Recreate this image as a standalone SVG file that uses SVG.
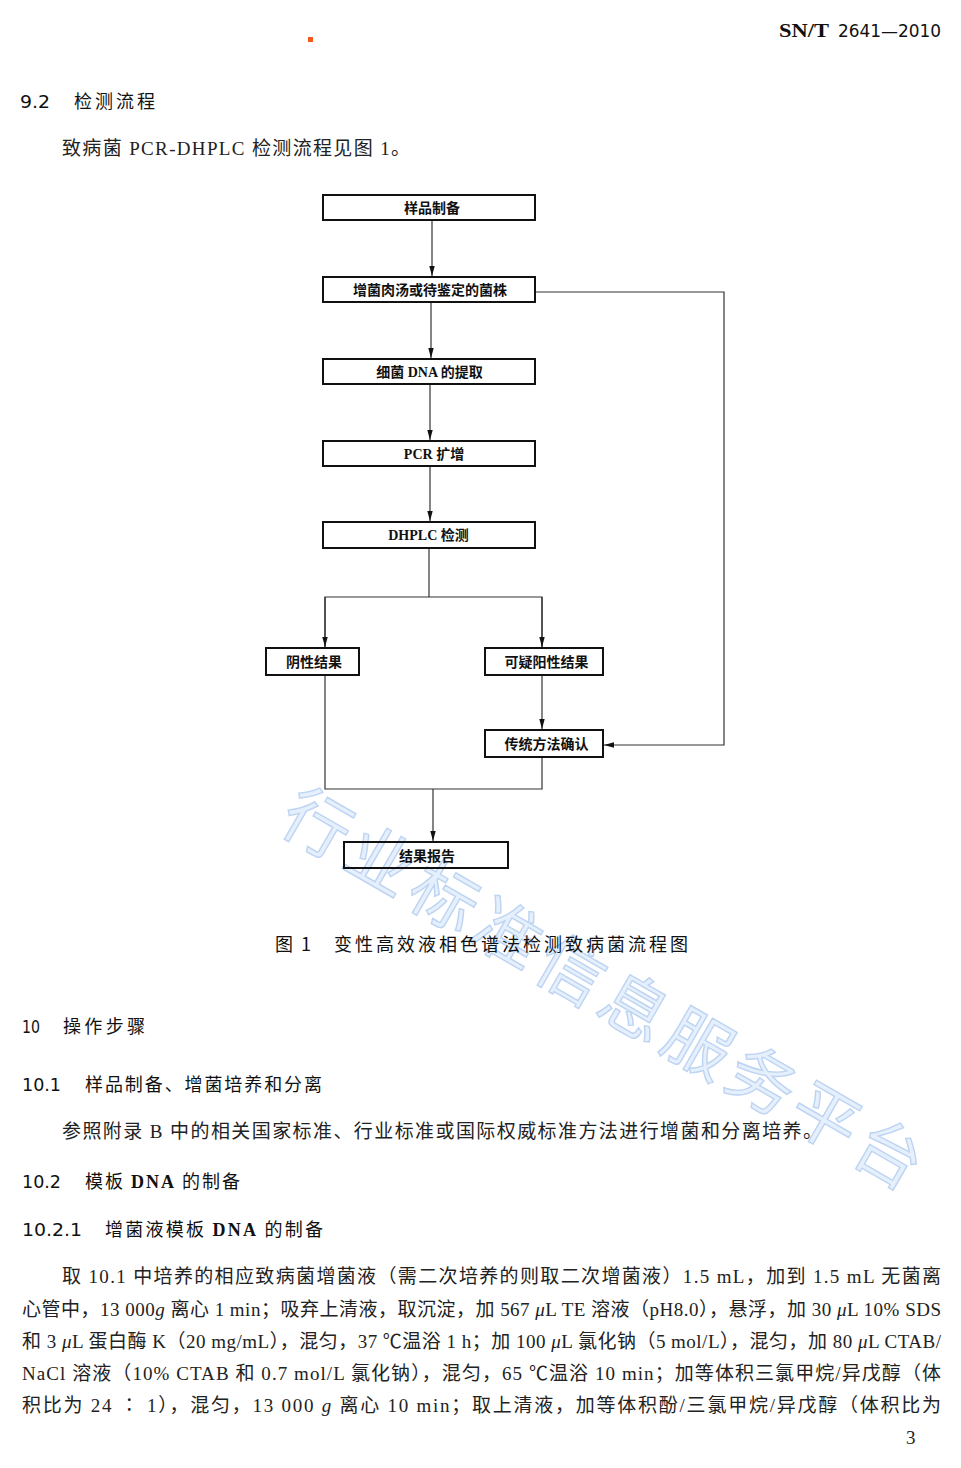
<svg xmlns="http://www.w3.org/2000/svg" width="961" height="1468" viewBox="0 0 961 1468">
<style>
.box{fill:none;stroke:#111;stroke-width:2}
.lbl{font-family:"Liberation Serif","Noto Sans CJK SC",serif;font-size:14px;font-weight:bold;fill:#111;text-anchor:middle}
.con{fill:none;stroke:#333;stroke-width:1.2}
.h{font-family:"DejaVu Sans Condensed","DejaVu Sans","Noto Sans CJK SC",sans-serif;font-size:18px;fill:#111}
.hz{font-family:"Noto Sans CJK SC",sans-serif;font-size:18px;fill:#111}
.body{font-family:"Liberation Serif","Noto Sans CJK SC",serif;font-size:19px;fill:#222}
.it{font-style:italic}
.wm{font-family:"Noto Sans CJK SC",sans-serif;font-size:67px;fill:#e2edfc;stroke:#b2cdf2;stroke-width:1.4;letter-spacing:6.4px}
</style>
<defs>
<marker id="arr" markerUnits="userSpaceOnUse" markerWidth="11" markerHeight="7" refX="10" refY="3.5" orient="auto">
<path d="M0,0.8 L10,3.5 L0,6.2 z" fill="#111"/>
</marker>
</defs>
<rect x="0" y="0" width="961" height="1468" fill="#fff"/>

<g id="watermark" opacity="0.85">
<text class="wm" x="276" y="828" transform="rotate(30 276 828)">行业标准信息服务平台</text>
</g>

<g id="header">
<rect x="308" y="37" width="5" height="5" fill="#f25a1a"/>
<text x="779" y="37" font-family="Liberation Serif,serif" font-size="18" font-weight="bold" fill="#111" textLength="50" lengthAdjust="spacingAndGlyphs">SN/T</text>
<text class="h" x="838" y="37" textLength="103" lengthAdjust="spacingAndGlyphs">2641—2010</text>
</g>

<g id="section92">
<text class="h" x="20" y="108" textLength="30" lengthAdjust="spacingAndGlyphs">9.2</text>
<text class="hz" x="74" y="108" textLength="81" lengthAdjust="spacing">检测流程</text>
<text class="body" x="62" y="155" textLength="348" lengthAdjust="spacing">致病菌 PCR-DHPLC 检测流程见图 1。</text>
</g>

<g id="connectors">
<line class="con" x1="432" y1="221" x2="432" y2="276" marker-end="url(#arr)"/>
<line class="con" x1="431" y1="303" x2="431" y2="358" marker-end="url(#arr)"/>
<line class="con" x1="430" y1="385" x2="430" y2="440" marker-end="url(#arr)"/>
<line class="con" x1="430" y1="467" x2="430" y2="521" marker-end="url(#arr)"/>
<polyline class="con" points="429,549 429,597"/>
<polyline class="con" points="325,647 325,597 542,597 542,647"/>
<line class="con" x1="325" y1="597" x2="325" y2="647" marker-end="url(#arr)"/>
<line class="con" x1="542" y1="597" x2="542" y2="647" marker-end="url(#arr)"/>
<line class="con" x1="542" y1="676" x2="542" y2="729" marker-end="url(#arr)"/>
<polyline class="con" points="536,292 724,292 724,745 604,745" marker-end="url(#arr)"/>
<polyline class="con" points="325,676 325,789 542,789 542,758"/>
<line class="con" x1="433" y1="789" x2="433" y2="841" marker-end="url(#arr)"/>
</g>

<g id="n1"><rect class="box" x="323" y="195" width="212" height="25"/><text class="lbl" x="432" y="212.5">样品制备</text></g>
<g id="n2"><rect class="box" x="323" y="277" width="212" height="25"/><text class="lbl" x="430" y="294.5">增菌肉汤或待鉴定的菌株</text></g>
<g id="n3"><rect class="box" x="323" y="359" width="212" height="25"/><text class="lbl" x="429.5" y="376.5">细菌 DNA 的提取</text></g>
<g id="n4"><rect class="box" x="323" y="441" width="212" height="25"/><text class="lbl" x="434" y="458.5">PCR 扩增</text></g>
<g id="n5"><rect class="box" x="323" y="522" width="212" height="26"/><text class="lbl" x="428.5" y="540">DHPLC 检测</text></g>
<g id="n6"><rect class="box" x="266" y="648" width="93" height="27"/><text class="lbl" x="314" y="667">阴性结果</text></g>
<g id="n7"><rect class="box" x="485" y="648" width="118" height="27"/><text class="lbl" x="546.5" y="667">可疑阳性结果</text></g>
<g id="n8"><rect class="box" x="485" y="730" width="118" height="27"/><text class="lbl" x="546.5" y="749">传统方法确认</text></g>
<g id="n9"><rect class="box" x="344" y="842" width="164" height="26"/><text class="lbl" x="427" y="860.5">结果报告</text></g>

<g id="caption">
<text class="hz" x="275" y="951" textLength="36" lengthAdjust="spacing">图 1</text>
<text class="hz" x="334" y="951" textLength="354" lengthAdjust="spacing">变性高效液相色谱法检测致病菌流程图</text>
</g>

<g id="section10">
<text class="h" x="22" y="1033" textLength="18" lengthAdjust="spacingAndGlyphs">10</text>
<text class="hz" x="63" y="1033" textLength="82" lengthAdjust="spacing">操作步骤</text>
<text class="h" x="22" y="1091" textLength="39" lengthAdjust="spacingAndGlyphs">10.1</text>
<text class="hz" x="85" y="1091" textLength="237" lengthAdjust="spacing">样品制备、增菌培养和分离</text>
<text class="body" x="62" y="1138" textLength="760" lengthAdjust="spacing">参照附录 B 中的相关国家标准、行业标准或国际权威标准方法进行增菌和分离培养。</text>
<text class="h" x="22" y="1188" textLength="39" lengthAdjust="spacingAndGlyphs">10.2</text>
<text class="hz" x="85" y="1188" textLength="155" lengthAdjust="spacing">模板 <tspan font-family="Liberation Serif,serif" font-weight="bold">DNA</tspan> 的制备</text>
<text class="h" x="22" y="1236" textLength="60" lengthAdjust="spacingAndGlyphs">10.2.1</text>
<text class="hz" x="105" y="1236" textLength="218" lengthAdjust="spacing">增菌液模板 <tspan font-family="Liberation Serif,serif" font-weight="bold">DNA</tspan> 的制备</text>
</g>

<g id="paragraph">
<text class="body" x="62" y="1283" textLength="879" lengthAdjust="spacing">取 10.1 中培养的相应致病菌增菌液（需二次培养的则取二次增菌液）1.5 mL，加到 1.5 mL 无菌离</text>
<text class="body" x="22" y="1316" textLength="919" lengthAdjust="spacing">心管中，13 000<tspan class="it">g</tspan> 离心 1 min；吸弃上清液，取沉淀，加 567 <tspan class="it">μ</tspan>L TE 溶液（pH8.0），悬浮，加 30 <tspan class="it">μ</tspan>L 10% SDS</text>
<text class="body" x="22" y="1348" textLength="919" lengthAdjust="spacing">和 3 <tspan class="it">μ</tspan>L 蛋白酶 K（20 mg/mL），混匀，37 ℃温浴 1 h；加 100 <tspan class="it">μ</tspan>L 氯化钠（5 mol/L），混匀，加 80 <tspan class="it">μ</tspan>L CTAB/</text>
<text class="body" x="22" y="1380" textLength="919" lengthAdjust="spacing">NaCl 溶液（10% CTAB 和 0.7 mol/L 氯化钠），混匀，65 ℃温浴 10 min；加等体积三氯甲烷/异戊醇（体</text>
<text class="body" x="22" y="1412" textLength="919" lengthAdjust="spacing">积比为 24 ∶ 1），混匀，13 000 <tspan class="it">g</tspan> 离心 10 min；取上清液，加等体积酚/三氯甲烷/异戊醇（体积比为</text>
<text class="body" x="906" y="1444" font-size="15">3</text>
</g>
</svg>
